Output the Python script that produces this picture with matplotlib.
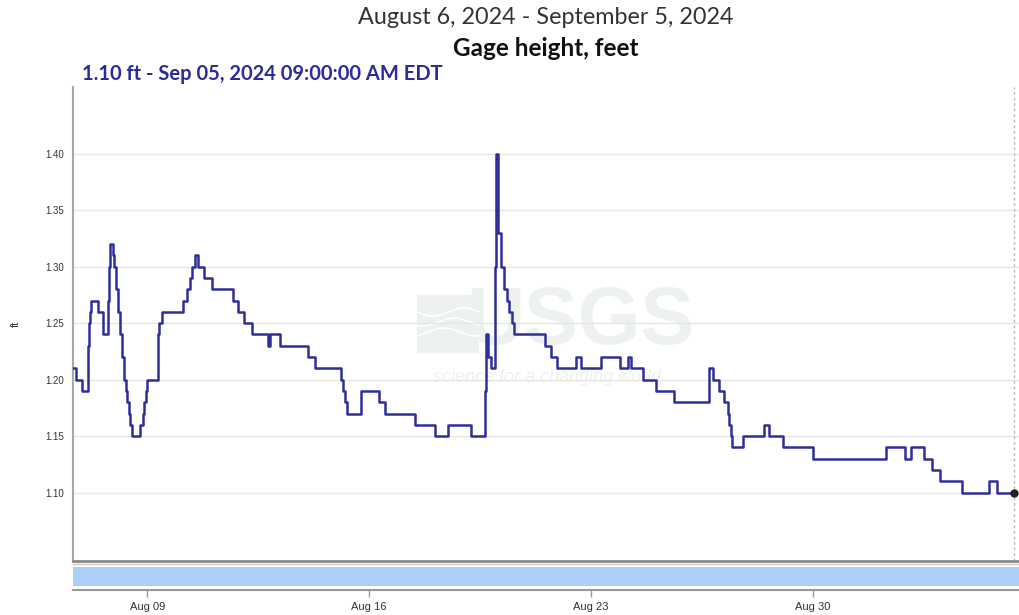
import numpy as np
import pandas as pd
import matplotlib.pyplot as plt
import matplotlib.dates as mdates
from matplotlib.patches import Rectangle

# gage height readings (step changes), days after Aug 6 2024 00:00
step_days = [0.631, 0.753, 0.934, 1.117, 1.149, 1.180, 1.228, 1.440, 1.598, 1.766,
             1.797, 1.829, 1.915, 1.956, 2.019, 2.082, 2.146, 2.209, 2.272, 2.320,
             2.367, 2.415, 2.462, 2.509, 2.756, 2.864, 2.905, 2.953, 3.000, 3.332,
             3.358, 3.443, 4.130, 4.234, 4.339, 4.415, 4.497, 4.604, 4.794, 5.047,
             5.712, 5.848, 6.060, 6.291, 6.820, 6.861, 7.187, 8.063, 8.294, 9.117,
             9.187, 9.234, 9.297, 9.750, 10.301, 10.509, 11.459, 12.073, 12.494, 13.231,
             13.649, 13.680, 13.696, 13.759, 13.832, 13.981, 14.013, 14.076, 14.171, 14.266,
             14.361, 14.424, 14.497, 14.573, 15.554, 15.731, 15.943, 16.522, 16.680, 17.313,
             17.915, 18.158, 18.263, 18.633, 19.054, 19.636, 20.744, 20.848, 21.060, 21.218,
             21.323, 21.370, 21.418, 21.459, 21.820, 22.453, 22.642, 23.063, 24.013, 26.332,
             26.915, 27.123, 27.516, 27.788, 28.041, 28.706, 29.582, 29.835, 30.375]
gage_ft = [1.21, 1.20, 1.19, 1.23, 1.25, 1.26, 1.27, 1.26, 1.24, 1.27,
           1.30, 1.32, 1.31, 1.30, 1.28, 1.26, 1.24, 1.22, 1.20, 1.19,
           1.18, 1.17, 1.16, 1.15, 1.16, 1.17, 1.18, 1.19, 1.20, 1.24,
           1.25, 1.26, 1.27, 1.28, 1.29, 1.30, 1.31, 1.30, 1.29, 1.28,
           1.27, 1.26, 1.25, 1.24, 1.23, 1.24, 1.23, 1.22, 1.21, 1.20,
           1.19, 1.18, 1.17, 1.19, 1.18, 1.17, 1.16, 1.15, 1.16, 1.15,
           1.19, 1.22, 1.24, 1.22, 1.21, 1.30, 1.40, 1.33, 1.30, 1.28,
           1.27, 1.26, 1.25, 1.24, 1.23, 1.22, 1.21, 1.22, 1.21, 1.22,
           1.21, 1.22, 1.21, 1.20, 1.19, 1.18, 1.21, 1.20, 1.19, 1.18,
           1.17, 1.16, 1.15, 1.14, 1.15, 1.16, 1.15, 1.14, 1.13, 1.14,
           1.13, 1.14, 1.13, 1.12, 1.11, 1.10, 1.11, 1.10, 1.10]

y_ticks = [1.10, 1.15, 1.20, 1.25, 1.30, 1.35, 1.40]
x_ticks = ['2024-08-09', '2024-08-16', '2024-08-23', '2024-08-30']

start = pd.Timestamp('2024-08-06')
times = start + pd.to_timedelta(step_days, unit='D')

line_color = '#2e2e9c'
wm_color = '#edf2ee'
W, H = 1019, 615

fig = plt.figure(figsize=(W / 100, H / 100), dpi=100)
left, right = 72.5, 1019
ax = fig.add_axes([left / W, 1 - 560.5 / H, (right - left) / W, (560.5 - 87) / H])
nav = fig.add_axes([left / W, 1 - 590 / H, (right - left) / W, 26 / H], sharex=ax)

# USGS watermark behind the data
ax.add_patch(Rectangle((417 / W, 1 - 353 / H), 62 / W, 58 / H, transform=fig.transFigure,
                       color=wm_color, zorder=0.2, lw=0))
wx = np.linspace(417, 479, 50)
for k, off in enumerate([312, 322, 332]):
    ax.plot(wx / W, 1 - (off + 4 * np.sin((wx - 417) / 10 + k)) / H, color='white',
            lw=1.2, transform=fig.transFigure, zorder=0.3)
ax.text(580 / W, 1 - 323 / H, 'USGS', fontsize=58, fontweight='bold', family='Liberation Sans',
        color=wm_color, ha='center', va='center', zorder=0.2, transform=fig.transFigure)
ax.text(547 / W, 1 - 378 / H, 'science for a changing world', fontsize=13, style='italic',
        family='Liberation Sans', color=wm_color, ha='center', va='center', zorder=0.2,
        transform=fig.transFigure)

ax.step(times, gage_ft, where='post', color=line_color, lw=1.8, zorder=3)
ax.plot(times[-1], gage_ft[-1], 'o', color='#222222', ms=5, zorder=4)
ax.axvline(times[-1], color='#bbbbbb', ls=(0, (2, 2)), lw=1, zorder=2)

ax.set_ylim(1.04, 1.459)
ax.set_xlim(pd.Timestamp('2024-08-06 15:10'), pd.Timestamp('2024-09-05 12:30'))
ax.set_yticks(y_ticks)
ax.set_yticklabels([f'{v:.2f}' for v in y_ticks], fontsize=7, color='#333333',
                   family='Liberation Sans')
ax.tick_params(axis='y', length=0, pad=6)
ax.tick_params(axis='x', which='both', length=0, labelbottom=False)
ax.yaxis.grid(True, color='#e6e6e6', lw=1, zorder=0.1)
ax.set_axisbelow(True)
ax.set_ylabel('ft', fontsize=8, color='#333333', family='Liberation Sans', labelpad=18)
for s in ['top', 'right']:
    ax.spines[s].set_visible(False)
ax.spines['left'].set_color('#a8a8a8')
ax.spines['left'].set_linewidth(1.5)
ax.spines['bottom'].set_color('#8a8a8a')
ax.spines['bottom'].set_linewidth(2)

# navigator strip
nav.axhspan(0.154, 0.896, color='#aad0f8', lw=0)
nav.set_ylim(0, 1)
nav.set_yticks([])
for s in ['left', 'right']:
    nav.spines[s].set_visible(False)
nav.spines['top'].set_color('#cccccc')
nav.spines['top'].set_linewidth(1)
nav.spines['bottom'].set_color('#999999')
nav.spines['bottom'].set_linewidth(1.5)
nav.set_xticks(pd.to_datetime(x_ticks))
nav.xaxis.set_major_formatter(mdates.DateFormatter('%b %d'))
nav.tick_params(axis='x', length=5, width=1, color='#999999', labelsize=8,
                labelcolor='#333333', pad=4)
for lab in nav.get_xticklabels():
    lab.set_family('Liberation Sans')

cx = (left + right) / 2 / W
fig.text(cx, 1 - 18 / H, 'August 6, 2024 - September 5, 2024', fontsize=16.8, family='Lato',
         color='#333333', ha='center', va='center')
fig.text(cx, 1 - 48 / H, 'Gage height, feet', fontsize=17.5, family='Lato', fontweight='bold',
         color='#111111', ha='center', va='center')
fig.text(82 / W, 1 - 74 / H, '1.10 ft - Sep 05, 2024 09:00:00 AM EDT', fontsize=14.5,
         family='Lato', fontweight='bold', color='#2b2b9b', ha='left', va='center')

fig.savefig('out.png', dpi=100)
